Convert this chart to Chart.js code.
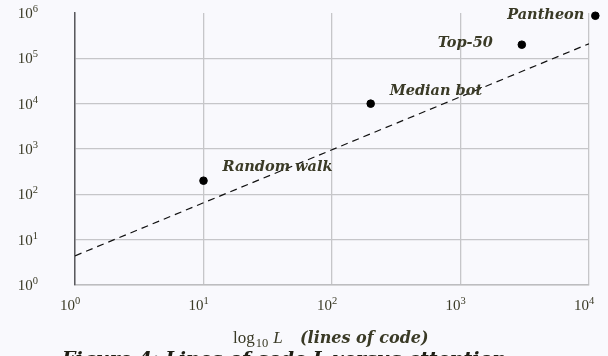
<!DOCTYPE html>
<html><head><meta charset="utf-8">
<script src="https://cdn.jsdelivr.net/npm/chart.js@4/dist/chart.umd.min.js"></script>
<style>html,body{margin:0;padding:0;background:#f9f9fd;overflow:hidden}#wrap{width:608px;height:356px;position:relative}</style>
</head><body><div id="wrap"><canvas id="c" width="608" height="356"></canvas></div>
<script>
// ---- data ----
const pointNames = ['Pantheon', 'Random walk', 'Median bot', 'Top-50'];
const linesOfCode = [11200, 10, 200, 3000];
const attention = [870000, 200, 10000, 200000];
const fitX = [1, 10000];
const fitY = [4.4, 210000];
const xTickValues = [1, 10, 100, 1000, 10000];
const xTickExponents = ['0', '1', '2', '3', '4'];
const yTickValues = [1, 10, 100, 1000, 10000, 100000, 1000000];
const yTickExponents = ['0', '1', '2', '3', '4', '5', '6'];
const xTitleMath = 'log';
const xTitleSub = '10';
const xTitleVar = 'L';
const xTitleText = '(lines of code)';
const captionText = 'Figure 4: Lines of code L versus attention';

// label layout (style only)
const labelAlign = ['right', 'left', 'left', 'right'];
const labelDx = [-11, 19, 19, -29];
const labelDy = [3, -10, -9, 2];

const TEXT = '#3a3a26';
const GRID = '#c6c6c9';

const scatterData = linesOfCode.map((x, i) => ({x: x, y: attention[i]}));
const fitData = fitX.map((x, i) => ({x: x, y: fitY[i]}));

function superNum(ctx, base, exp, x, y, align, bigFont, smallFont, raise) {
  ctx.font = bigFont;
  const wb = ctx.measureText(base).width;
  ctx.font = smallFont;
  const we = ctx.measureText(exp).width;
  let left;
  if (align === 'right') left = x - wb - we;
  else if (align === 'grid') left = x - wb;
  else left = x;
  ctx.textAlign = 'left';
  ctx.textBaseline = 'alphabetic';
  ctx.font = bigFont;
  ctx.fillText(base, left, y);
  ctx.font = smallFont;
  ctx.fillText(exp, left + wb, y - raise);
}

// allow markers just beyond the axis end to be drawn (as in the original)
const widenArea = {
  id: 'widenArea',
  beforeDatasetsDraw(chart) {
    chart._savedArea = Object.assign({}, chart.chartArea);
    chart.chartArea.right += 18;
    chart.chartArea.top -= 10;
  },
  afterDatasetsDraw(chart) {
    Object.assign(chart.chartArea, chart._savedArea);
  }
};

const textPlugin = {
  id: 'textPlugin',
  afterDraw(chart) {
    const ctx = chart.ctx;
    const xs = chart.scales.x, ys = chart.scales.y;
    ctx.save();
    ctx.fillStyle = TEXT;
    const big = '15px "Liberation Serif"';
    const small = '10.5px "Liberation Serif"';
    yTickValues.forEach((v, i) => {
      const py = ys.getPixelForValue(v);
      superNum(ctx, '10', yTickExponents[i], 38, py + 5, 'right', big, small, 6);
    });
    xTickValues.forEach((v, i) => {
      const px = xs.getPixelForValue(v);
      superNum(ctx, '10', xTickExponents[i], px, 310, 'grid', big, small, 6);
    });
    ctx.font = 'bold italic 14.5px "DejaVu Serif"';
    ctx.textBaseline = 'alphabetic';
    pointNames.forEach((name, i) => {
      const px = xs.getPixelForValue(linesOfCode[i]);
      const py = ys.getPixelForValue(attention[i]);
      ctx.textAlign = labelAlign[i];
      ctx.fillText(name, px + labelDx[i], py + labelDy[i]);
    });
    // x axis title
    let x0 = 233;
    const by = 343;
    ctx.textAlign = 'left';
    ctx.font = '17px "Liberation Serif"';
    ctx.fillText(xTitleMath, x0, by);
    x0 += ctx.measureText(xTitleMath).width + 1;
    ctx.font = '12.5px "Liberation Serif"';
    ctx.fillText(xTitleSub, x0, by + 4);
    x0 += ctx.measureText(xTitleSub).width + 5;
    ctx.font = 'italic 17px "Liberation Serif"';
    ctx.fillText(xTitleVar, x0, by);
    ctx.font = 'bold italic 16px "DejaVu Serif"';
    ctx.fillText(xTitleText, 300, by);
    // caption
    ctx.fillStyle = '#1e1e14';
    ctx.font = 'bold italic 19px "DejaVu Serif"';
    ctx.fillText(captionText, 62, 365);
    ctx.restore();
  }
};

new Chart(document.getElementById('c'), {
  data: {
    datasets: [
      {
        type: 'line', data: fitData, borderColor: '#111', borderWidth: 1.2,
        borderDash: [7, 5], pointRadius: 0, fill: false, order: 2
      },
      {
        type: 'scatter', data: scatterData, backgroundColor: '#000', borderColor: '#000',
        pointRadius: 3.8, pointHoverRadius: 3.8, clip: false, order: 1
      }
    ]
  },
  options: {
    responsive: false,
    animation: false,
    events: [],
    layout: {padding: {left: 0, top: 13, right: 19, bottom: 0}},
    plugins: {legend: {display: false}, tooltip: {enabled: false}},
    scales: {
      x: {
        type: 'logarithmic', min: 1, max: 10000,
        afterBuildTicks: s => { s.ticks = xTickValues.map(v => ({value: v})); },
        afterFit: s => { s.height = 71; },
        ticks: {display: false},
        grid: {color: GRID, lineWidth: 1.3, drawTicks: false},
        border: {display: true, color: '#bdbdc0', width: 1.5}
      },
      y: {
        type: 'logarithmic', min: 1, max: 1000000,
        afterBuildTicks: s => { s.ticks = yTickValues.map(v => ({value: v})); },
        afterFit: s => { s.width = 75; },
        ticks: {display: false},
        grid: {
          color: c => (c.tick && c.tick.value === 1000000) ? 'rgba(0,0,0,0)' : GRID,
          lineWidth: 1.3, drawTicks: false
        },
        border: {display: true, color: '#5a5a5e', width: 1.5}
      }
    }
  },
  plugins: [widenArea, textPlugin]
});
</script>
</body></html>
